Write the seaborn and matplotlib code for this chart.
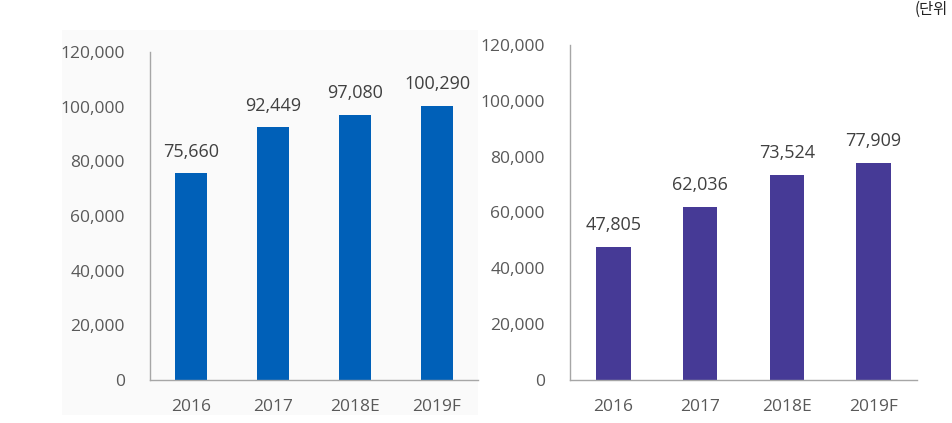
import matplotlib
matplotlib.use("Agg")
import matplotlib.pyplot as plt
import seaborn as sns
import pandas as pd
from matplotlib.patches import Rectangle

categories = ["2016", "2017", "2018E", "2019F"]
left_values = [75660, 92449, 97080, 100290]
right_values = [47805, 62036, 73524, 77909]
yticks = [0, 20000, 40000, 60000, 80000, 100000, 120000]

sns.set_theme(style="white")
plt.rcParams['font.family'] = ['Open Sans', 'Noto Sans CJK KR', 'DejaVu Sans']

TXT = "#595959"
AX = "#A6A6A6"

fig = plt.figure(figsize=(9.53, 4.23), dpi=100)
fig.patch.set_facecolor("white")
# faint panel background for left chart
bg = Rectangle((62/953, 1-415/423), 416/953, 385/423, transform=fig.transFigure,
               facecolor="#FAFAFA", edgecolor="none", zorder=-10)
fig.patches.append(bg)

ax1 = fig.add_axes([150/953, 1-380/423, 328/953, 328/423])
ax2 = fig.add_axes([570/953, 1-380/423, 347/953, 335/423])

def draw(ax, vals, color):
    df = pd.DataFrame({"year": categories, "value": vals})
    sns.barplot(data=df, x="year", y="value", color=color, width=0.4, ax=ax,
                saturation=1, edgecolor="none")
    ax.set_facecolor("none")
    ax.patch.set_alpha(0)
    ax.set_ylim(0, 120000)
    ax.set_xlim(-0.5, 3.5)
    ax.set_yticks(yticks)
    ax.set_yticklabels([f"{v:,}" for v in yticks])
    ax.set_xlabel("")
    ax.set_ylabel("")
    ax.tick_params(axis="y", length=0, pad=18, labelsize=12.5, labelcolor=TXT)
    ax.tick_params(axis="x", length=0, pad=14, labelsize=12.5, labelcolor=TXT)
    for s in ["top", "right"]:
        ax.spines[s].set_visible(False)
    for s in ["left", "bottom"]:
        ax.spines[s].set_color(AX)
        ax.spines[s].set_linewidth(1.0)
    for c in ax.containers:
        ax.bar_label(c, labels=[f"{v:,}" for v in vals], padding=9, fontsize=13, color="#404040")
    ax.grid(False)

draw(ax1, left_values, "#0060B8")
draw(ax2, right_values, "#463A96")

fig.text(0.995, 0.998, "(단위", ha="right", va="top", fontsize=11, color="#222222",
         family=['Noto Sans CJK KR', 'DejaVu Sans'])

fig.savefig("out.png", dpi=100)
